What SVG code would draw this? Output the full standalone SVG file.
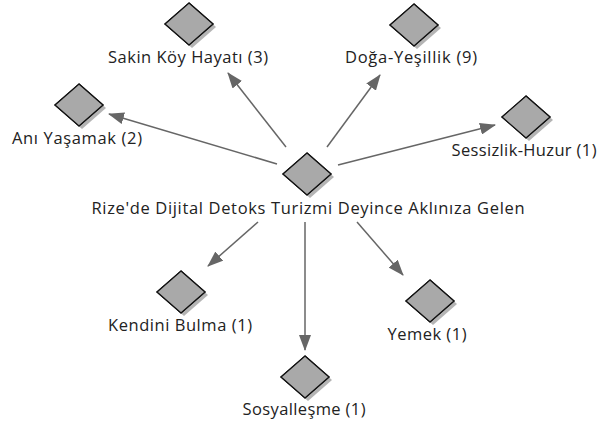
<svg xmlns="http://www.w3.org/2000/svg" width="605" height="425" viewBox="0 0 605 425">
<style>
.sh{fill:#b4b4b4}
.dm{fill:#a9a9a9;stroke:#111;stroke-width:1.3}
.hl{fill:none;stroke:#fff;stroke-width:2}
.lb{font-family:"Open Sans","Noto Sans",sans-serif;font-size:16.5px;fill:#222;text-anchor:middle}
.ed{stroke:#666;stroke-width:1.5;fill:none;marker-end:url(#ah)}
</style>
<defs>
<marker id="ah" viewBox="0 0 16 12" refX="15" refY="6" markerWidth="16" markerHeight="12" markerUnits="userSpaceOnUse" orient="auto">
<path d="M0,0 L16,6 L0,12 Z" fill="#666"/>
</marker>
<g id="dia">
<path class="sh" d="M3,-18 L27,3 L3,24 L-21,3 Z"/>
<path class="dm" d="M0,-21 L24,0 L0,21 L-24,0 Z"/>
<path class="hl" d="M-21,0 L0,-18"/>
<path class="dm" d="M0,-21 L24,0 L0,21 L-24,0 Z" fill="none"/>
</g>
</defs>
<g id="connectors">
<line class="ed" x1="286" y1="147" x2="228" y2="73"/>
<line class="ed" x1="327" y1="147" x2="380" y2="75"/>
<line class="ed" x1="277" y1="164" x2="109" y2="114"/>
<line class="ed" x1="338" y1="165" x2="495" y2="125"/>
<line class="ed" x1="258" y1="222" x2="208" y2="266"/>
<line class="ed" x1="305" y1="222" x2="305" y2="350"/>
<line class="ed" x1="357" y1="222" x2="403" y2="275"/>
</g>
<g id="center"><use href="#dia" x="307" y="174"/><text class="lb" x="308" y="214" textLength="433" lengthAdjust="spacing">Rize'de Dijital Detoks Turizmi Deyince Aklınıza Gelen</text></g>
<g id="sakin"><use href="#dia" x="189" y="24"/><text class="lb" x="188" y="63" textLength="160" lengthAdjust="spacing">Sakin Köy Hayatı (3)</text></g>
<g id="doga"><use href="#dia" x="414" y="25"/><text class="lb" x="411" y="63" textLength="132" lengthAdjust="spacing">Doğa-Yeşillik (9)</text></g>
<g id="ani"><use href="#dia" x="79" y="105"/><text class="lb" x="77" y="144" textLength="130" lengthAdjust="spacing">Anı Yaşamak (2)</text></g>
<g id="sessizlik"><use href="#dia" x="526" y="117"/><text class="lb" x="524" y="156" textLength="145" lengthAdjust="spacing">Sessizlik-Huzur (1)</text></g>
<g id="kendini"><use href="#dia" x="181" y="292"/><text class="lb" x="180" y="331" textLength="144" lengthAdjust="spacing">Kendini Bulma (1)</text></g>
<g id="sosyal"><use href="#dia" x="305" y="377"/><text class="lb" x="304" y="415" textLength="123" lengthAdjust="spacing">Sosyalleşme (1)</text></g>
<g id="yemek"><use href="#dia" x="430" y="301"/><text class="lb" x="427" y="340" textLength="79" lengthAdjust="spacing">Yemek (1)</text></g>
</svg>
